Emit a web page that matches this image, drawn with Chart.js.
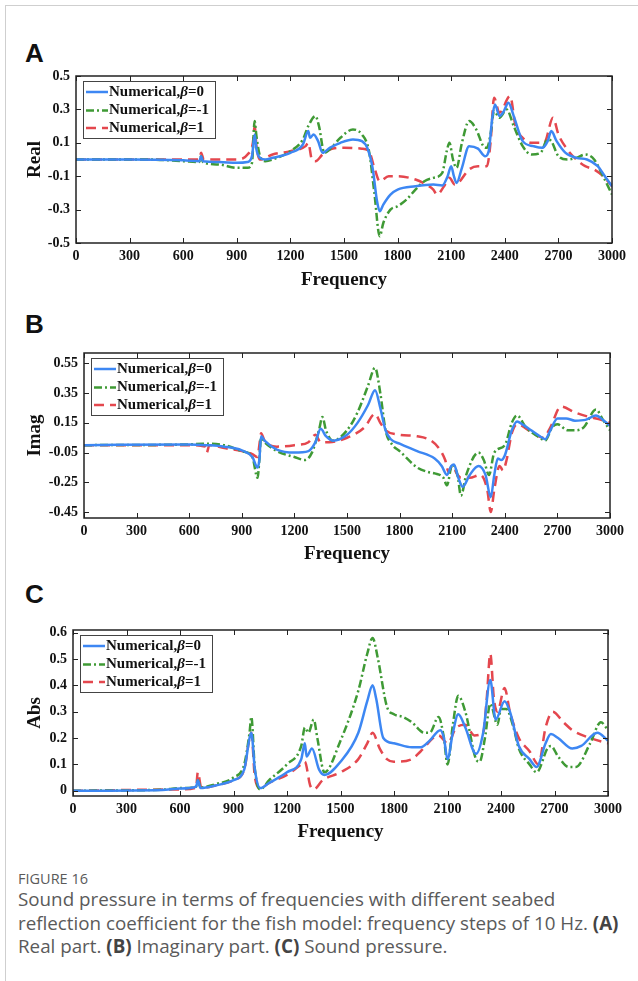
<!DOCTYPE html>
<html>
<head>
<meta charset="utf-8">
<script src="https://cdn.jsdelivr.net/npm/chart.js@4.4.1/dist/chart.umd.min.js"></script>
<style>
body { margin: 0; background: #fff; }
#page { position: relative; width: 638px; height: 981px; overflow: hidden; }
#frame { position: absolute; left: 5px; top: 5px; width: 700px; height: 1000px; border-left: 1px solid #cfcfcf; border-top: 1px solid #cfcfcf; }
.tag { position: absolute; left: 25px; font: bold 26px "Liberation Sans", Arial, sans-serif; line-height: 26px; color: #111; }
canvas { position: absolute; left: 0; }
.caption { position: absolute; left: 18px; top: 869px; font-family: "Open Sans", sans-serif; color: #5a5a5a; white-space: nowrap; }
.fig { font-size: 14.5px; line-height: 19px; }
.txt { font-size: 18.8px; line-height: 23.5px; }
.txt b { font-weight: 700; color: #444; }
</style>
</head>
<body>
<div id="page">
  <div id="frame"></div>
  <div class="tag" style="top:40px">A</div>
  <div class="tag" style="top:311px">B</div>
  <div class="tag" style="top:581px">C</div>
  <canvas id="chartA" width="638" height="240" style="top:60px"></canvas>
  <canvas id="chartB" width="638" height="270" style="top:300px"></canvas>
  <canvas id="chartC" width="638" height="280" style="top:570px"></canvas>
  <div class="caption">
    <div class="fig">FIGURE 16</div>
    <div class="txt">Sound pressure in terms of frequencies with different seabed<br>reflection coefficient for the fish model: frequency steps of 10 Hz. <b>(A)</b><br>Real part. <b>(B)</b> Imaginary part. <b>(C)</b> Sound pressure.</div>
  </div>
</div>
<script>
const seriesLabels = ["Numerical,β=0", "Numerical,β=-1", "Numerical,β=1"];

const freqTicks = [0, 300, 600, 900, 1200, 1500, 1800, 2100, 2400, 2700, 3000];
const realTicks = [-0.5, -0.3, -0.1, 0.1, 0.3, 0.5];
const imagTicks = [-0.45, -0.25, -0.05, 0.15, 0.35, 0.55];
const absTicks = [0, 0.1, 0.2, 0.3, 0.4, 0.5, 0.6];

// [frequency, value]
const realBeta0 = [[0,0],[300,0],[600,-0.005],[690,-0.01],[700,0.02],[710,-0.01],[800,-0.015],[900,-0.02],[960,-0.015],[985,0.02],[1000,0.15],[1010,0.06],[1030,0.01],[1060,0],[1100,0.01],[1200,0.04],[1270,0.09],[1300,0.17],[1310,0.13],[1330,0.15],[1355,0.11],[1380,0.04],[1420,0.07],[1480,0.1],[1550,0.12],[1600,0.11],[1630,0.07],[1660,-0.05],[1685,-0.25],[1700,-0.31],[1720,-0.27],[1760,-0.21],[1800,-0.18],[1900,-0.16],[2000,-0.15],[2050,-0.155],[2080,-0.1],[2100,-0.04],[2115,-0.1],[2130,-0.14],[2160,-0.05],[2200,0.08],[2250,0.065],[2290,0.02],[2310,0.05],[2330,0.25],[2345,0.33],[2370,0.26],[2395,0.29],[2420,0.34],[2450,0.26],[2500,0.11],[2560,0.08],[2610,0.07],[2640,0.11],[2660,0.17],[2690,0.11],[2740,0.04],[2800,0.01],[2860,0],[2920,-0.04],[2960,-0.1],[3000,-0.16]];
const realBetaM1 = [[0,0],[400,0],[600,-0.01],[690,-0.015],[700,0.02],[710,-0.015],[800,-0.03],[900,-0.05],[960,-0.05],[985,-0.02],[1000,0.23],[1010,0.14],[1030,0.02],[1060,-0.01],[1100,0],[1200,0.05],[1270,0.12],[1300,0.2],[1340,0.26],[1360,0.2],[1390,0.04],[1420,0.06],[1480,0.13],[1550,0.18],[1600,0.15],[1640,0.05],[1670,-0.2],[1700,-0.46],[1720,-0.38],[1760,-0.3],[1800,-0.28],[1850,-0.24],[1900,-0.18],[1950,-0.13],[2000,-0.11],[2050,-0.08],[2075,0.05],[2090,0.1],[2110,0],[2130,-0.05],[2160,0.1],[2200,0.23],[2240,0.18],[2280,0.08],[2300,0.07],[2320,0.15],[2340,0.29],[2370,0.25],[2410,0.3],[2450,0.2],[2500,0.08],[2550,0.03],[2600,0.04],[2640,0.12],[2660,0.11],[2700,0.02],[2750,0],[2800,0.01],[2850,0.03],[2900,0],[2950,-0.1],[3000,-0.21]];
const realBeta1 = [[0,0],[600,0],[690,0],[700,0.04],[715,0],[800,0],[900,0],[960,0.03],[990,0.1],[1000,0.2],[1010,0.08],[1030,0],[1100,0.03],[1200,0.05],[1285,0.08],[1300,0.1],[1320,0],[1340,-0.01],[1380,0.03],[1420,0.06],[1500,0.07],[1600,0.065],[1640,0.05],[1670,-0.05],[1700,-0.13],[1750,-0.1],[1800,-0.1],[1900,-0.12],[1960,-0.15],[2000,-0.18],[2020,-0.21],[2060,-0.16],[2090,-0.11],[2120,-0.15],[2140,-0.14],[2200,-0.06],[2250,-0.04],[2300,-0.04],[2320,0.1],[2340,0.37],[2370,0.28],[2430,0.38],[2460,0.2],[2500,0.13],[2550,0.1],[2620,0.1],[2670,0.25],[2700,0.15],[2750,0.06],[2800,0],[2850,-0.04],[2900,-0.06],[2950,-0.1],[3000,-0.16]];

const imagBeta0 = [[0,0],[600,0.005],[700,0],[800,-0.01],[900,-0.035],[960,-0.08],[990,-0.15],[1000,-0.1],[1010,0.06],[1030,0.03],[1100,-0.03],[1200,-0.05],[1280,-0.04],[1320,0.02],[1350,0.11],[1380,0.06],[1420,0.03],[1500,0.07],[1560,0.15],[1620,0.27],[1660,0.37],[1690,0.25],[1720,0.1],[1750,0.04],[1800,0.01],[1900,-0.04],[2000,-0.09],[2040,-0.14],[2070,-0.2],[2095,-0.14],[2110,-0.13],[2135,-0.22],[2160,-0.28],[2200,-0.2],[2250,-0.14],[2290,-0.2],[2320,-0.35],[2340,-0.2],[2360,-0.09],[2380,-0.1],[2400,-0.07],[2440,0.1],[2470,0.16],[2500,0.14],[2550,0.1],[2600,0.06],[2630,0.04],[2660,0.1],[2700,0.18],[2750,0.18],[2800,0.165],[2860,0.17],[2920,0.2],[2960,0.17],[3000,0.13]];
const imagBetaM1 = [[0,0],[600,0.005],[680,0.01],[800,0],[900,-0.04],[960,-0.08],[990,-0.22],[1000,-0.1],[1010,0.05],[1030,0.02],[1100,-0.04],[1200,-0.08],[1260,-0.1],[1300,-0.05],[1340,0.1],[1360,0.19],[1380,0.1],[1420,0.03],[1500,0.1],[1560,0.22],[1620,0.4],[1660,0.52],[1690,0.35],[1720,0.1],[1760,0],[1800,-0.04],[1900,-0.15],[1960,-0.18],[2000,-0.19],[2050,-0.22],[2070,-0.27],[2100,-0.13],[2130,-0.2],[2150,-0.34],[2180,-0.2],[2250,-0.05],[2280,-0.1],[2310,-0.2],[2340,-0.05],[2400,0],[2440,0.15],[2470,0.2],[2520,0.12],[2600,0.05],[2630,0.03],[2670,0.12],[2700,0.14],[2760,0.1],[2800,0.1],[2850,0.12],[2920,0.24],[2960,0.17],[3000,0.1]];
const imagBeta1 = [[0,0],[600,0],[690,-0.01],[700,-0.05],[715,0],[800,-0.02],[900,-0.04],[960,-0.06],[990,-0.08],[1000,0],[1010,0.08],[1030,0.03],[1100,-0.01],[1200,0],[1280,0.02],[1320,0.07],[1350,0.02],[1400,0.02],[1500,0.05],[1600,0.12],[1660,0.21],[1690,0.15],[1720,0.1],[1800,0.07],[1900,0.06],[1980,0.03],[2030,-0.03],[2060,-0.1],[2080,-0.18],[2100,-0.14],[2130,-0.2],[2150,-0.22],[2200,-0.22],[2260,-0.2],[2300,-0.3],[2320,-0.45],[2340,-0.3],[2370,-0.14],[2390,-0.17],[2410,-0.1],[2440,0.08],[2470,0.14],[2550,0.09],[2620,0.05],[2660,0.12],[2720,0.26],[2800,0.22],[2880,0.19],[2950,0.17],[3000,0.15]];

const absBeta0 = [[0,0],[500,0.003],[600,0.008],[690,0.015],[700,0.04],[715,0.01],[800,0.02],[900,0.04],[960,0.08],[990,0.2],[1000,0.22],[1020,0.08],[1050,0.01],[1100,0.03],[1200,0.07],[1280,0.12],[1300,0.18],[1310,0.13],[1340,0.16],[1380,0.08],[1410,0.06],[1500,0.11],[1600,0.22],[1650,0.34],[1680,0.4],[1700,0.35],[1740,0.2],[1800,0.18],[1900,0.165],[1950,0.165],[2000,0.19],[2060,0.23],[2080,0.2],[2100,0.12],[2130,0.22],[2160,0.29],[2200,0.24],[2260,0.14],[2300,0.22],[2340,0.42],[2370,0.27],[2420,0.34],[2450,0.3],[2500,0.17],[2560,0.12],[2600,0.09],[2650,0.18],[2680,0.215],[2720,0.2],[2800,0.16],[2850,0.17],[2940,0.22],[3000,0.19]];
const absBetaM1 = [[0,0],[500,0.004],[600,0.01],[690,0.015],[700,0.04],[715,0.012],[800,0.025],[900,0.05],[960,0.1],[990,0.22],[1000,0.28],[1020,0.08],[1050,0.005],[1100,0.04],[1200,0.1],[1280,0.17],[1300,0.24],[1320,0.22],[1350,0.27],[1370,0.2],[1410,0.07],[1500,0.19],[1600,0.38],[1650,0.52],[1680,0.58],[1710,0.5],[1760,0.32],[1800,0.29],[1850,0.28],[1900,0.26],[1970,0.22],[2000,0.22],[2050,0.28],[2080,0.2],[2100,0.1],[2130,0.25],[2160,0.36],[2200,0.3],[2260,0.12],[2280,0.11],[2310,0.2],[2340,0.33],[2380,0.25],[2400,0.31],[2430,0.31],[2470,0.24],[2500,0.16],[2560,0.1],[2600,0.07],[2660,0.16],[2680,0.17],[2720,0.13],[2780,0.09],[2820,0.09],[2900,0.18],[2960,0.26],[3000,0.23]];
const absBeta1 = [[0,0],[600,0.005],[690,0.012],[700,0.07],[720,0.01],[800,0.02],[900,0.04],[960,0.08],[990,0.2],[1000,0.22],[1020,0.05],[1050,0.01],[1100,0.03],[1200,0.06],[1280,0.1],[1300,0.11],[1330,0.02],[1350,0.005],[1400,0.04],[1500,0.07],[1600,0.12],[1650,0.18],[1680,0.22],[1720,0.16],[1760,0.12],[1800,0.11],[1900,0.12],[1950,0.15],[2050,0.21],[2100,0.18],[2150,0.24],[2200,0.25],[2250,0.21],[2300,0.22],[2320,0.35],[2340,0.52],[2360,0.35],[2380,0.3],[2420,0.39],[2450,0.3],[2500,0.2],[2560,0.15],[2610,0.1],[2650,0.24],[2690,0.3],[2750,0.26],[2800,0.23],[2900,0.2],[3000,0.18]];

const lineColors = ["#3d87f3", "#3f9a35", "#e4474e"];
const lineDashes = [[], [8, 3, 2, 3], [10, 6]];

const serif = '"Liberation Serif", "Times New Roman", serif';

function toPoints(pairs) {
    return pairs.map(p => ({ x: p[0], y: p[1] }));
}

function fmt(v) {
    return String(+v.toFixed(2));
}

/* box frame with inward ticks, plus the legend box */
const framePlugin = {
    id: "frameBox",
    afterDraw(chart) {
        const ctx = chart.ctx;
        const a = chart.chartArea;
        const xs = chart.scales.x;
        const ys = chart.scales.y;
        ctx.save();
        ctx.strokeStyle = "#222";
        ctx.lineWidth = 1;
        ctx.beginPath();
        xs.ticks.forEach(t => {
            const px = Math.round(xs.getPixelForValue(t.value)) + 0.5;
            ctx.moveTo(px, a.bottom); ctx.lineTo(px, a.bottom - 5);
            ctx.moveTo(px, a.top); ctx.lineTo(px, a.top + 5);
        });
        ys.ticks.forEach(t => {
            const py = Math.round(ys.getPixelForValue(t.value)) + 0.5;
            ctx.moveTo(a.left, py); ctx.lineTo(a.left + 5, py);
            ctx.moveTo(a.right, py); ctx.lineTo(a.right - 5, py);
        });
        ctx.stroke();
        ctx.lineWidth = 1.5;
        ctx.strokeRect(a.left, a.top, a.right - a.left, a.bottom - a.top);

        // legend
        const bx = a.left + 7, by = a.top + 5, bw = 132, bh = 57;
        ctx.fillStyle = "#fff";
        ctx.fillRect(bx, by, bw, bh);
        ctx.lineWidth = 1;
        ctx.strokeStyle = "#444";
        ctx.strokeRect(bx + 0.5, by + 0.5, bw, bh);
        const rows = [11, 29.5, 47];
        chart.data.datasets.forEach((ds, i) => {
            const ry = by + rows[i];
            ctx.strokeStyle = ds.borderColor;
            ctx.lineWidth = 2.5;
            ctx.setLineDash(ds.borderDash || []);
            ctx.beginPath();
            ctx.moveTo(bx + 3, ry);
            ctx.lineTo(bx + 25, ry);
            ctx.stroke();
            ctx.setLineDash([]);
            ctx.fillStyle = "#111";
            ctx.textBaseline = "middle";
            let tx = bx + 26;
            const parts = ds.label.split("β");
            ctx.font = "bold 15px " + serif;
            ctx.fillText(parts[0], tx, ry);
            tx += ctx.measureText(parts[0]).width;
            ctx.font = "italic bold 15px " + serif;
            ctx.fillText("β", tx, ry);
            tx += ctx.measureText("β").width;
            ctx.font = "bold 15px " + serif;
            ctx.fillText(parts[1], tx, ry);
        });
        ctx.restore();
    }
};

function makePanel(id, yTitle, series, yMin, yMax, yTicks, geo) {
    const datasets = series.map((s, i) => ({
        label: seriesLabels[i],
        data: toPoints(s),
        borderColor: lineColors[i],
        borderDash: lineDashes[i],
        borderWidth: 2.5,
        pointRadius: 0,
        fill: false,
        cubicInterpolationMode: "monotone",
    }));
    return new Chart(document.getElementById(id), {
        type: "line",
        data: { datasets: datasets },
        plugins: [framePlugin],
        options: {
            responsive: false,
            animation: false,
            layout: { padding: { left: 0, right: 638 - geo.right, top: geo.top, bottom: geo.bottom } },
            plugins: { legend: { display: false }, tooltip: { enabled: false } },
            scales: {
                x: {
                    type: "linear",
                    min: 0,
                    max: 3000,
                    grid: { display: false, drawTicks: false },
                    border: { display: false },
                    afterBuildTicks: s => { s.ticks = freqTicks.map(v => ({ value: v })); },
                    afterFit: s => { s.height = geo.xh; },
                    ticks: {
                        autoSkip: false, maxRotation: 0, padding: 5, color: "#111",
                        font: { family: serif, size: 14, weight: "bold" },
                        callback: v => String(v),
                    },
                    title: {
                        display: true, text: "Frequency", color: "#111",
                        padding: { top: 0, bottom: 0 },
                        font: { family: serif, size: 19, weight: "bold" },
                    },
                },
                y: {
                    type: "linear",
                    min: yMin,
                    max: yMax,
                    grid: { display: false, drawTicks: false },
                    border: { display: false },
                    afterBuildTicks: s => { s.ticks = yTicks.map(v => ({ value: v })); },
                    afterFit: s => { s.width = geo.left; },
                    ticks: {
                        padding: 6, color: "#111",
                        font: { family: serif, size: 14, weight: "bold" },
                        callback: v => fmt(v),
                    },
                    title: {
                        display: true, text: yTitle, color: "#111",
                        padding: { top: 24, bottom: 0 },
                        font: { family: serif, size: 19, weight: "bold" },
                    },
                },
            },
        },
    });
}

makePanel("chartA", "Real", [realBeta0, realBetaM1, realBeta1], -0.5, 0.5, realTicks,
    { left: 76, right: 612, top: 16, bottom: 9, xh: 48 });
makePanel("chartB", "Imag", [imagBeta0, imagBetaM1, imagBeta1], -0.49, 0.62, imagTicks,
    { left: 84, right: 610, top: 53, bottom: 5, xh: 47 });
makePanel("chartC", "Abs", [absBeta0, absBetaM1, absBeta1], -0.02, 0.61, absTicks,
    { left: 73, right: 608, top: 60, bottom: 7, xh: 47 });
</script>
</body>
</html>
